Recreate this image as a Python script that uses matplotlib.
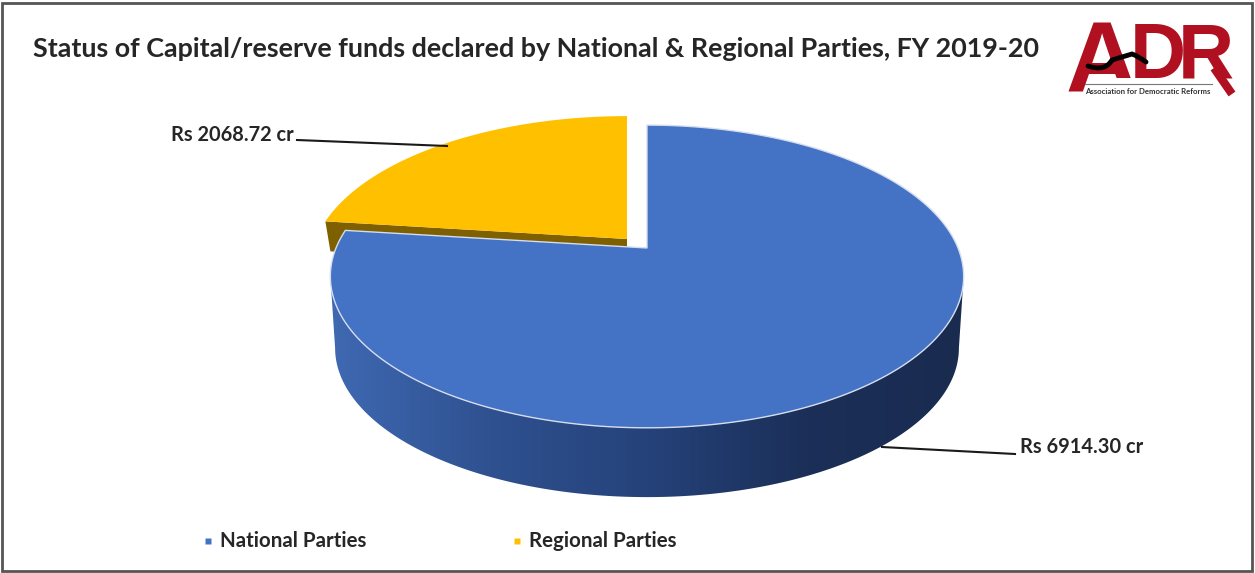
#!/usr/bin/env python3
import matplotlib
matplotlib.use('Agg')
import matplotlib.pyplot as plt
from matplotlib.colors import LinearSegmentedColormap
from matplotlib.patches import PathPatch, Polygon, Rectangle
from matplotlib.path import Path
import numpy as np

TITLE = "Status of Capital/reserve funds declared by National & Regional Parties, FY 2019-20"
PARTIES = ["National Parties", "Regional Parties"]
FUNDS_CR = [6914.30, 2068.72]

C_NAT = "#4472C4"
C_REG = "#FFC000"
C_REG_SIDE = "#7F6000"
C_RED = "#B0101F"
C_TEXT = "#262626"
FONT = "Lato"

# the pie is a tilted disc, so the centre sits above the middle of the ellipse
CX, CY = 647, 248
RX, RY = 311, 146
PERSP = 0.188
DEPTH = 72
EXPLODE = (-20, -9)


def project(theta, dx=0, dy=0, shrink=1.0):
    # theta runs clockwise from 12 o'clock
    d = 1 + PERSP * np.cos(theta)
    x = CX + dx + shrink * RX * np.sin(theta) / d
    y = CY + dy - shrink * RY * np.cos(theta) / d
    return np.column_stack([x, y])


def wedge(start, end, dx=0, dy=0):
    th = np.linspace(start, end, 300)
    return np.vstack([project(th, dx, dy), [[CX + dx, CY + dy]]])


fig = plt.figure(figsize=(12.55, 5.73), dpi=100)
ax = fig.add_axes([0, 0, 1, 1])

fracs = np.array(FUNDS_CR) / sum(FUNDS_CR)
split = 2 * np.pi * fracs[0]

# regional slice, pulled out, with its side showing
reg = wedge(split, 2 * np.pi, *EXPLODE)
left, centre = reg[0], reg[-1]
ax.add_patch(Polygon([left, centre, centre + [0, 30], left + [5, 30]],
                     closed=True, fc=C_REG_SIDE, ec="none", zorder=2))
ax.add_patch(Polygon(reg, closed=True, fc=C_REG, ec="none", zorder=3))

# national slice: shaded rim first, then the top face
# rim runs between the two points where the ellipse is widest
tip = np.arccos(-PERSP)
th_front = np.linspace(tip, 2 * np.pi - tip, 300)
rim = np.vstack([project(th_front), project(th_front[::-1], dy=DEPTH, shrink=0.985)])
side_cmap = LinearSegmentedColormap.from_list(
    "side", ["#3F69B2", "#2F5190", "#25427A", "#1B2F58", "#1A2B50"])
img = ax.imshow(np.linspace(0, 1, 256)[None, :], cmap=side_cmap, aspect="auto",
                extent=(330, 966, 510, 120), zorder=4)
img.set_clip_path(Polygon(rim, closed=True, transform=ax.transData))
ax.add_patch(Polygon(wedge(0, split), closed=True, fc=C_NAT, ec="#D5DDEE", lw=1, zorder=5))

# leader lines and data labels
ax.plot([297, 447], [140, 146], color="#1a1a1a", lw=1.5, zorder=6)
ax.plot([882, 1015], [447, 454], color="#1a1a1a", lw=1.5, zorder=6)
ax.text(171, 135, f"Rs {FUNDS_CR[1]:.2f} cr", fontsize=14.4, fontweight="bold",
        family=FONT, color=C_TEXT, va="center", ha="left")
ax.text(1020, 447, f"Rs {FUNDS_CR[0]:.2f} cr", fontsize=14.4, fontweight="bold",
        family=FONT, color=C_TEXT, va="center", ha="left")

ax.text(33, 49, TITLE, fontsize=19.4, fontweight="bold", family=FONT,
        color=C_TEXT, va="center", ha="left")

# legend
for name, color, mx in zip(PARTIES, [C_NAT, C_REG], [208, 517]):
    ax.plot(mx, 541, "s", color=color, ms=5, mec="none")
    ax.text(mx + 12, 541, name, fontsize=14.8, fontweight="bold", family=FONT,
            color=C_TEXT, va="center", ha="left")

# ADR logo: big A whose right foot is cut off above the small strapline
logo = dict(color=C_RED, fontweight="bold", ha="left", va="baseline")
ax.text(1066, 93, "A", family="Liberation Sans", fontsize=72, zorder=6, **logo)
ax.add_patch(Rectangle((1098, 78), 46, 17, fc="white", ec="none", zorder=7))
narrow = ["Liberation Sans Narrow", "Liberation Sans"]
ax.text(1130, 78, "D", family=narrow, fontsize=56, zorder=8, **logo)
ax.text(1178, 78, "R", family=narrow, fontsize=56, zorder=8, **logo)
ax.plot([1214, 1232], [68, 94], color=C_RED, lw=6, solid_capstyle="butt", zorder=8)
curve = Path([(1088, 66), (1105, 72), (1112, 60), (1122, 57), (1132, 54), (1138, 56), (1146, 62)],
             [Path.MOVETO, Path.CURVE3, Path.CURVE3, Path.CURVE3, Path.CURVE3, Path.CURVE3, Path.CURVE3])
ax.add_patch(PathPatch(curve, fc="none", ec="black", lw=3.5, capstyle="round", zorder=9))
ax.plot([1085, 1212], [84, 84], color="#777777", lw=0.8, zorder=9)
ax.text(1148, 91, "Association for Democratic Reforms", fontsize=5.6, fontweight="bold",
        family=FONT, color="#333333", ha="center", va="center", zorder=9)

# picture frame
ax.add_patch(Polygon([(2, 3), (1252, 3), (1252, 571), (2, 571)], closed=True,
                     fc="none", ec="#555555", lw=2, zorder=10))

ax.set_xlim(0, 1255)
ax.set_ylim(573, 0)
ax.axis("off")

fig.savefig("out.png", dpi=100, facecolor="white")
plt.close(fig)
